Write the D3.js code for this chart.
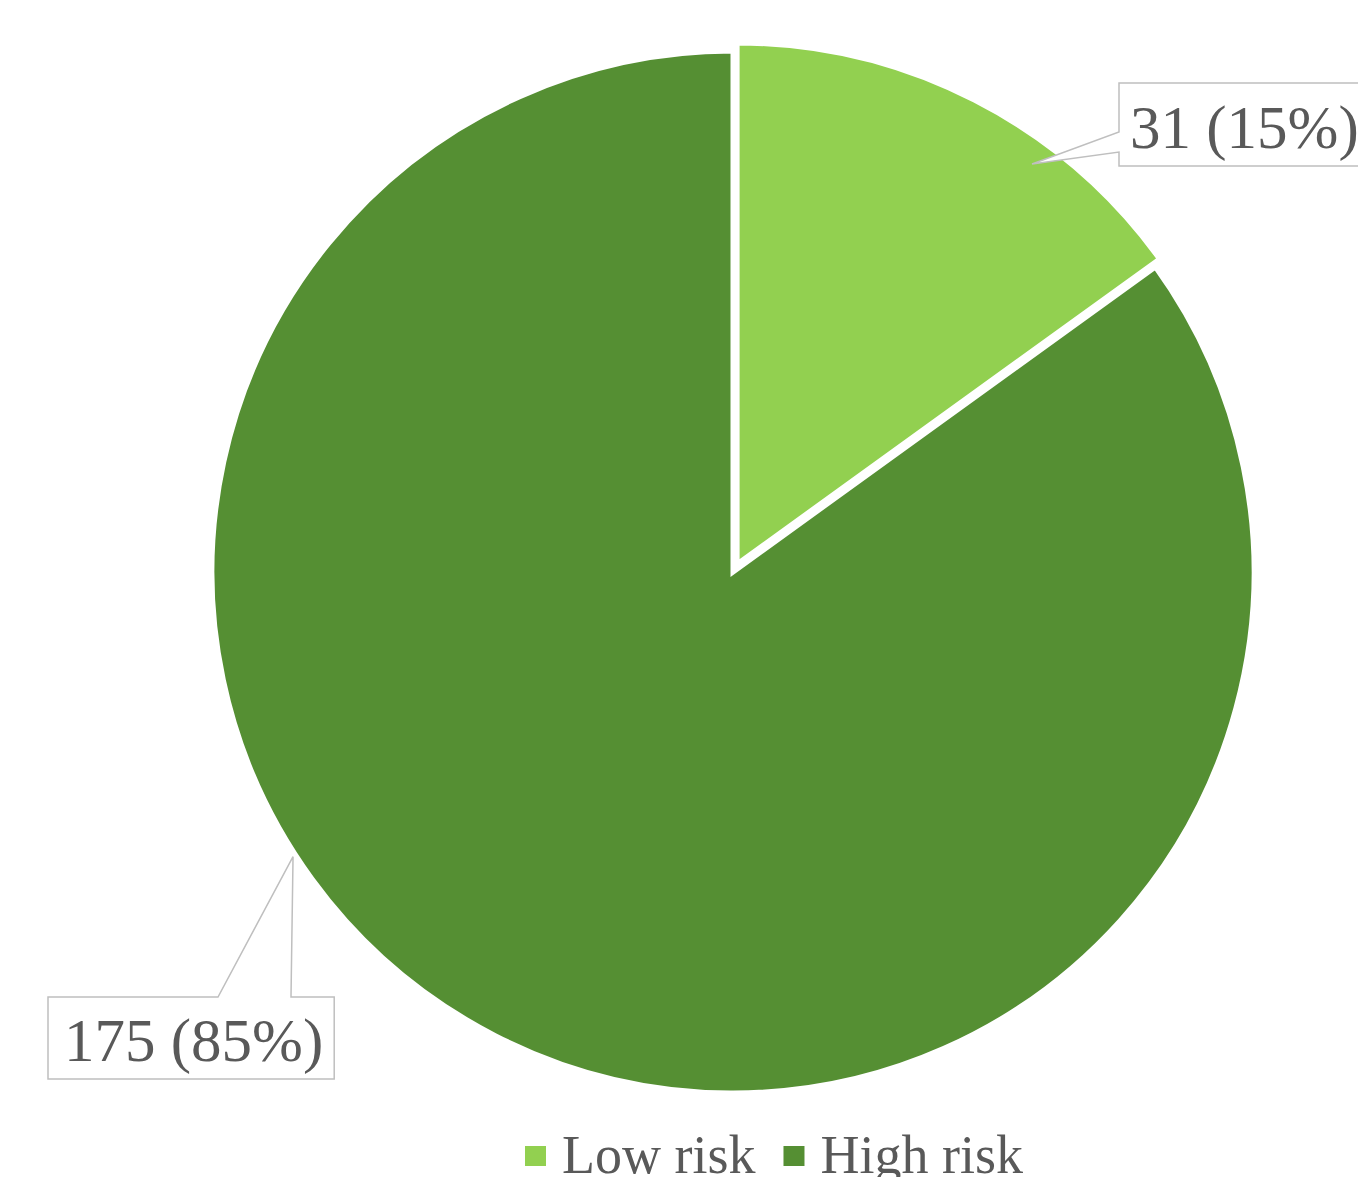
<!DOCTYPE html>
<html>
<head>
<meta charset="utf-8">
<script src="https://cdn.jsdelivr.net/npm/d3@7"></script>
<style>
  body { margin: 0; background: #fff; }
  svg { display: block; }
  text { font-family: "Liberation Serif", "Times New Roman", serif; fill: #595959; }
</style>
</head>
<body>
<svg width="1358" height="1177"></svg>
<script>
// data
const categories = ['Low risk', 'High risk'];
const counts = [31, 175];
const percents = [15, 85];
const colors = ['#92d050', '#558f33'];

const svg = d3.select('svg');
const cx = 733, cy = 572;
const radius = 521;

const data = categories.map((c, i) => ({ name: c, value: counts[i], pct: percents[i], color: colors[i] }));

const pie = d3.pie().sort(null).value(d => d.value);
const arcs = pie(data);
const arc = d3.arc().innerRadius(0).outerRadius(radius);

// low risk slice is pulled out a bit
const explode = [9, 0];

const chart = svg.append('g').attr('transform', `translate(${cx}, ${cy})`);

const slices = chart.selectAll('g.slice')
  .data(arcs)
  .enter()
  .append('g')
  .attr('class', 'slice')
  .attr('transform', (d, i) => {
    const mid = (d.startAngle + d.endAngle) / 2;
    const off = explode[i];
    return `translate(${Math.sin(mid) * off}, ${-Math.cos(mid) * off})`;
  });

slices.append('path')
  .attr('d', arc)
  .attr('fill', d => d.data.color)
  .attr('stroke', '#fff')
  .attr('stroke-width', 5)
  .attr('stroke-linejoin', 'miter');

// callout labels (angle in degrees from 12 o'clock, radius of the pointer tip)
const labelLayout = [
  { angle: 36.4, r: 497, textX: 1130, boxX: 1119, boxY: 83, boxH: 83, side: 'left', notch: [49, 69] },
  { angle: 237.1, r: 524, textX: 64, boxX: 48, boxY: 997, boxH: 82, side: 'top', notch: [170, 243] }
];

const labels = svg.append('g').attr('class', 'labels');

arcs.forEach((d, i) => {
  const L = labelLayout[i];
  const mid = (d.startAngle + d.endAngle) / 2;
  const off = explode[i];
  const a = L.angle * Math.PI / 180;
  const ax = cx + Math.sin(mid) * off + Math.sin(a) * L.r;
  const ay = cy - Math.cos(mid) * off - Math.cos(a) * L.r;

  const g = labels.append('g');
  const box = g.append('path');
  const t = g.append('text')
    .attr('x', L.textX)
    .attr('y', L.boxY + L.boxH / 2 + 23)
    .attr('font-size', 61)
    .text(`${d.data.value} (${d.data.pct}%)`);

  const w = t.node().getComputedTextLength() + (L.textX - L.boxX) + 11;
  const x0 = L.boxX, y0 = L.boxY, x1 = x0 + w, y1 = y0 + L.boxH;
  let p;
  if (L.side === 'left') {
    p = `M${x0},${y0}H${x1}V${y1}H${x0}V${y0 + L.notch[1]}L${ax},${ay}L${x0},${y0 + L.notch[0]}Z`;
  } else {
    p = `M${x0},${y0}H${x0 + L.notch[0]}L${ax},${ay}L${x0 + L.notch[1]},${y0}H${x1}V${y1}H${x0}Z`;
  }
  box.attr('d', p)
    .attr('fill', '#fff')
    .attr('stroke', '#bfbfbf')
    .attr('stroke-width', 1.5)
    .attr('stroke-linejoin', 'miter');
});

// legend
const legend = svg.append('g').attr('class', 'legend');
let lx = 525;
data.forEach((d, i) => {
  legend.append('rect')
    .attr('x', lx)
    .attr('y', 1146)
    .attr('width', 21)
    .attr('height', 20)
    .attr('fill', d.color);
  const t = legend.append('text')
    .attr('x', lx + 37)
    .attr('y', 1173)
    .attr('font-size', 54)
    .text(d.name);
  lx = lx + 37 + t.node().getComputedTextLength() + 28;
});
</script>
</body>
</html>
